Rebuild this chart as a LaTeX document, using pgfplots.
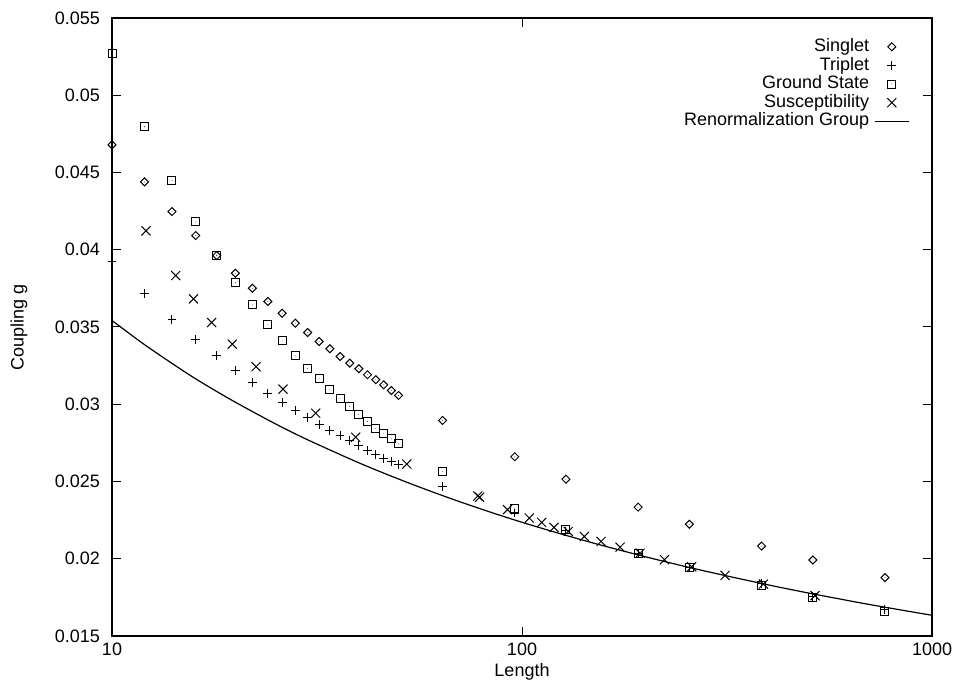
\documentclass[border=0pt]{standalone}
\usepackage{fontspec}
\setmainfont{Liberation Sans}
\usepackage{pgfplots}
\pgfplotsset{compat=1.18}

\pgfdeclareplotmark{diadot}{%
  \pgfpathmoveto{\pgfqpoint{0pt}{\pgfplotmarksize}}%
  \pgfpathlineto{\pgfqpoint{\pgfplotmarksize}{0pt}}%
  \pgfpathlineto{\pgfqpoint{0pt}{-\pgfplotmarksize}}%
  \pgfpathlineto{\pgfqpoint{-\pgfplotmarksize}{0pt}}%
  \pgfpathclose\pgfusepathqstroke
  \pgfpathcircle{\pgfpointorigin}{0.2pt}\pgfusepathqfill}
\pgfdeclareplotmark{sqdot}{%
  \pgfpathrectangle{\pgfqpoint{-\pgfplotmarksize}{-\pgfplotmarksize}}{\pgfqpoint{2\pgfplotmarksize}{2\pgfplotmarksize}}%
  \pgfusepathqstroke
  \pgfpathcircle{\pgfpointorigin}{0.2pt}\pgfusepathqfill}

\begin{document}
\begin{tikzpicture}
\begin{axis}[
  xmode=log, log basis x=10,
  width=410pt, height=309pt, scale only axis,
  xmin=10, xmax=1000, ymin=0.015, ymax=0.055,
  xtick={10,100,1000}, xticklabels={10,100,1000},
  ytick={0.015,0.02,0.025,0.03,0.035,0.04,0.045,0.05,0.055},
  yticklabels={0.015,0.02,0.025,0.03,0.035,0.04,0.045,0.05,0.055},
  tick align=inside, major tick length=4.5pt, minor tick length=2.25pt,
  xtick pos=both, ytick pos=both,
  axis line style={line width=1pt},
  every tick/.style={black, line width=0.5pt},
  tick label style={font=\fontsize{9}{10}\selectfont},
  yticklabel style={xshift=-2.5pt},
  label style={font=\fontsize{9}{10}\selectfont},
  xlabel={Length}, ylabel={Coupling g},
  xlabel style={at={(axis description cs:0.5,-0.0583)}, anchor=center},
  ylabel style={at={(axis description cs:-0.1134,0.5)}, anchor=center},
  clip=false,
  legend plot pos=right,
  legend cell align=right,
  legend style={draw=none, fill=none, at={(0.973,0.969)}, anchor=north east,
    font=\fontsize{9}{10}\selectfont, row sep=0pt, column sep=2pt, inner sep=0pt,
    nodes={inner sep=0.5pt, text height=6.5pt, text depth=1.8pt}},
]
% Singlet
\addplot[only marks, mark=diadot, mark size=2pt, line width=0.5pt, black] coordinates {
(10,0.04679) (12,0.04439) (14,0.04247) (16,0.04092) (18,0.03962) (20,0.03848)
(22,0.03751) (24,0.03665) (26,0.03589) (28,0.03525) (30,0.03464) (32,0.03406)
(34,0.03359) (36,0.03309) (38,0.03266) (40,0.0323) (42,0.03191) (44,0.03159)
(46,0.03126) (48,0.03089) (50,0.03057)
(64,0.02895) (96,0.0266) (128,0.02515) (192,0.02334) (256,0.02223)
(384,0.02082) (512,0.01992) (768,0.01878)
};
\addlegendentry{Singlet}
% Triplet
\addplot[only marks, mark=+, mark size=2.2pt, line width=0.5pt, black] coordinates {
(10,0.03924) (12,0.03715) (14,0.0355) (16,0.03421) (18,0.03313) (20,0.0322)
(22,0.03143) (24,0.03071) (26,0.03013) (28,0.02958) (30,0.02914) (32,0.02867)
(34,0.02828) (36,0.02798) (38,0.02765) (40,0.02733) (42,0.02701) (44,0.02677)
(46,0.02651) (48,0.0263) (50,0.02608)
(64,0.0247) (96,0.02296) (128,0.0218) (192,0.02037) (256,0.01944)
(384,0.01839) (512,0.01757) (768,0.01671)
};
\addlegendentry{Triplet}
% Ground state
\addplot[only marks, mark=sqdot, mark size=2pt, line width=0.5pt, black] coordinates {
(10,0.05267) (12,0.04797) (14,0.04448) (16,0.0418) (18,0.03962) (20,0.03788)
(22,0.03643) (24,0.03514) (26,0.0341) (28,0.03313) (30,0.03231) (32,0.03164)
(34,0.03093) (36,0.03039) (38,0.02985) (40,0.02935) (42,0.02888) (44,0.02845)
(46,0.02809) (48,0.02776) (50,0.02744)
(64,0.02563) (96,0.02328) (128,0.02187) (192,0.02036) (256,0.01946)
(384,0.01825) (512,0.01748) (768,0.0166)
};
\addlegendentry{Ground State}
% Susceptibility
\addplot[only marks, mark=x, mark size=3.2pt, line width=0.5pt, black] coordinates {
(12.1,0.04122) (14.3,0.03833) (15.8,0.03682) (17.5,0.03529) (19.65,0.03389)
(22.45,0.03243) (26.13,0.03098) (31.4,0.02942) (39.3,0.02787) (52.35,0.02613)
(78.0,0.02406) (78.8,0.02398) (92.2,0.02318) (104.2,0.02263) (111.7,0.02235)
(119.7,0.02203) (129.7,0.02177) (141.9,0.02144) (155.9,0.02112) (173.5,0.02075)
(194.1,0.02036) (222.5,0.01994) (259.3,0.01948) (312.8,0.01892) (388,0.01836)
(518.4,0.01761)
};
\addlegendentry{Susceptibility}
% Renormalization group
\addplot[no marks, line width=0.6pt, black, smooth] coordinates {
(10,0.03542) (12,0.03386) (15,0.03212) (17,0.03122) (20,0.03013) (25,0.02874)
(30,0.0277) (40,0.02621) (50,0.02516) (60,0.02436) (70,0.02372) (85,0.02296)
(100,0.02236) (120,0.02173) (150,0.0210) (200,0.02013) (250,0.0195)
(300,0.01902) (400,0.0183) (500,0.01778) (600,0.01738) (700,0.01705)
(850,0.01666) (1000,0.01634)
};
\addlegendentry{Renormalization Group}
\end{axis}
\pgfresetboundingbox
\path ([shift={(-56pt,-26pt)}]current axis.south west) rectangle ([shift={(11.5pt,9pt)}]current axis.north east);
\end{tikzpicture}
\end{document}
